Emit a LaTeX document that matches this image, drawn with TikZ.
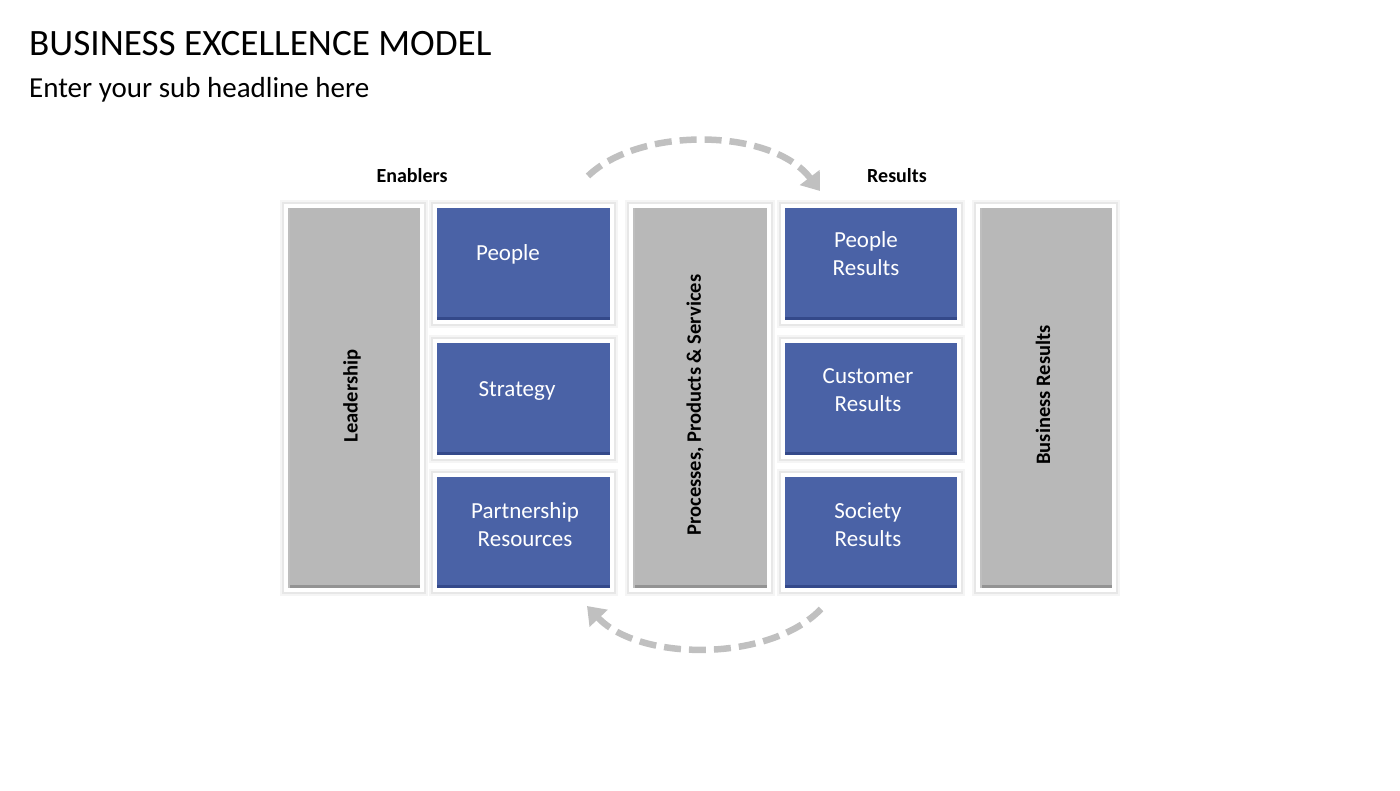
\documentclass[tikz,border=0pt]{standalone}
\usepackage{fontspec}
\setmainfont{Carlito}
\usetikzlibrary{arrows.meta}
\definecolor{boxblue}{HTML}{4A62A6}
\definecolor{boxblueD}{HTML}{34498A}
\definecolor{boxgray}{HTML}{B8B8B8}
\definecolor{boxgrayD}{HTML}{939393}
\definecolor{arcgray}{HTML}{C0C0C0}
\tikzset{
  card/.style={rectangle, draw=white, line width=4pt, inner sep=0pt, outer sep=0pt,
    preaction={draw=black, draw opacity=0.04, line width=12pt},
    preaction={draw=black, draw opacity=0.06, line width=8pt}},
  bluecard/.style={card, fill=boxblue,
    path picture={\fill[boxblueD] ([shift={(2pt,2pt)}]path picture bounding box.south west) rectangle ([shift={(-2pt,5pt)}]path picture bounding box.south east);}},
  graycard/.style={card, fill=boxgray,
    path picture={\fill[boxgrayD] ([shift={(2pt,2pt)}]path picture bounding box.south west) rectangle ([shift={(-2pt,5pt)}]path picture bounding box.south east);
                  \fill[boxgrayD!60] ([shift={(2pt,2pt)}]path picture bounding box.south west) rectangle ([shift={(3.5pt,-2pt)}]path picture bounding box.north west);}},
  bluetxt/.style={text=white, font=\fontsize{23}{28}\selectfont, align=center, inner sep=0pt},
  vtxt/.style={rotate=90, font=\fontsize{20.5}{24}\selectfont\bfseries, inner sep=0pt},
  head/.style={font=\fontsize{20}{24}\selectfont\bfseries, inner sep=0pt},
  arc/.style={draw=arcgray, line width=6.5pt, dash pattern=on 17pt off 8pt, -{Triangle[length=17pt,width=24pt]}}
}
\begin{document}
\begin{tikzpicture}[x=1pt,y=-1pt]
\useasboundingbox (0,0) rectangle (1400,790);
% title
\node[anchor=base west, inner sep=0pt, font=\fontsize{37.2}{42}\selectfont] (title) at (29,55) {BUSINESS EXCELLENCE MODEL};
\node[anchor=base west, inner sep=0pt, font=\fontsize{29}{34}\selectfont] (sub) at (29,97) {Enter your sub headline here};
% headers
\node[head] (enab) at (412,176) {Enablers};
\node[head] (res) at (897,176) {Results};
% boxes
\node[graycard, minimum width=136pt, minimum height=384pt] (lead) at (354,398) {};
\node[bluecard, minimum width=177pt, minimum height=116pt] (people) at (523.5,264) {};
\node[bluecard, minimum width=177pt, minimum height=116pt] (strat) at (523.5,399) {};
\node[bluecard, minimum width=177pt, minimum height=115pt] (partn) at (523.5,532.5) {};
\node[graycard, minimum width=138pt, minimum height=384pt] (proc) at (700,398) {};
\node[bluecard, minimum width=176pt, minimum height=116pt] (pres) at (871,264) {};
\node[bluecard, minimum width=176pt, minimum height=116pt] (cres) at (871,399) {};
\node[bluecard, minimum width=176pt, minimum height=115pt] (sres) at (871,532.5) {};
\node[graycard, minimum width=136pt, minimum height=384pt] (bres) at (1046,398) {};
% texts
\node[vtxt] (leadT) at (352,396) {Leadership};
\node[vtxt] (procT) at (695,405) {Processes, Products \& Services};
\node[vtxt] (bresT) at (1043,395) {Business Results};
\node[bluetxt] (peopleT) at (508,254) {People};
\node[bluetxt] (stratT) at (517,391) {Strategy};
\node[bluetxt] (partnT) at (525,525) {Partnership\\ Resources};
\node[bluetxt] (presT) at (866,254) {People\\ Results};
\node[bluetxt] (cresT) at (868,390) {Customer\\ Results};
\node[bluetxt] (sresT) at (868,525) {Society\\ Results};
% cycle arrows
\coordinate (t1) at (588,176);
\coordinate (t2) at (820,191);
\coordinate (b1) at (821,609);
\coordinate (b2) at (587,606);
\draw[arc] (t1) .. controls (640,126) and (772,128) .. (t2);
\draw[arc] (b1) .. controls (770,662) and (640,662) .. (b2);
\end{tikzpicture}
\end{document}
